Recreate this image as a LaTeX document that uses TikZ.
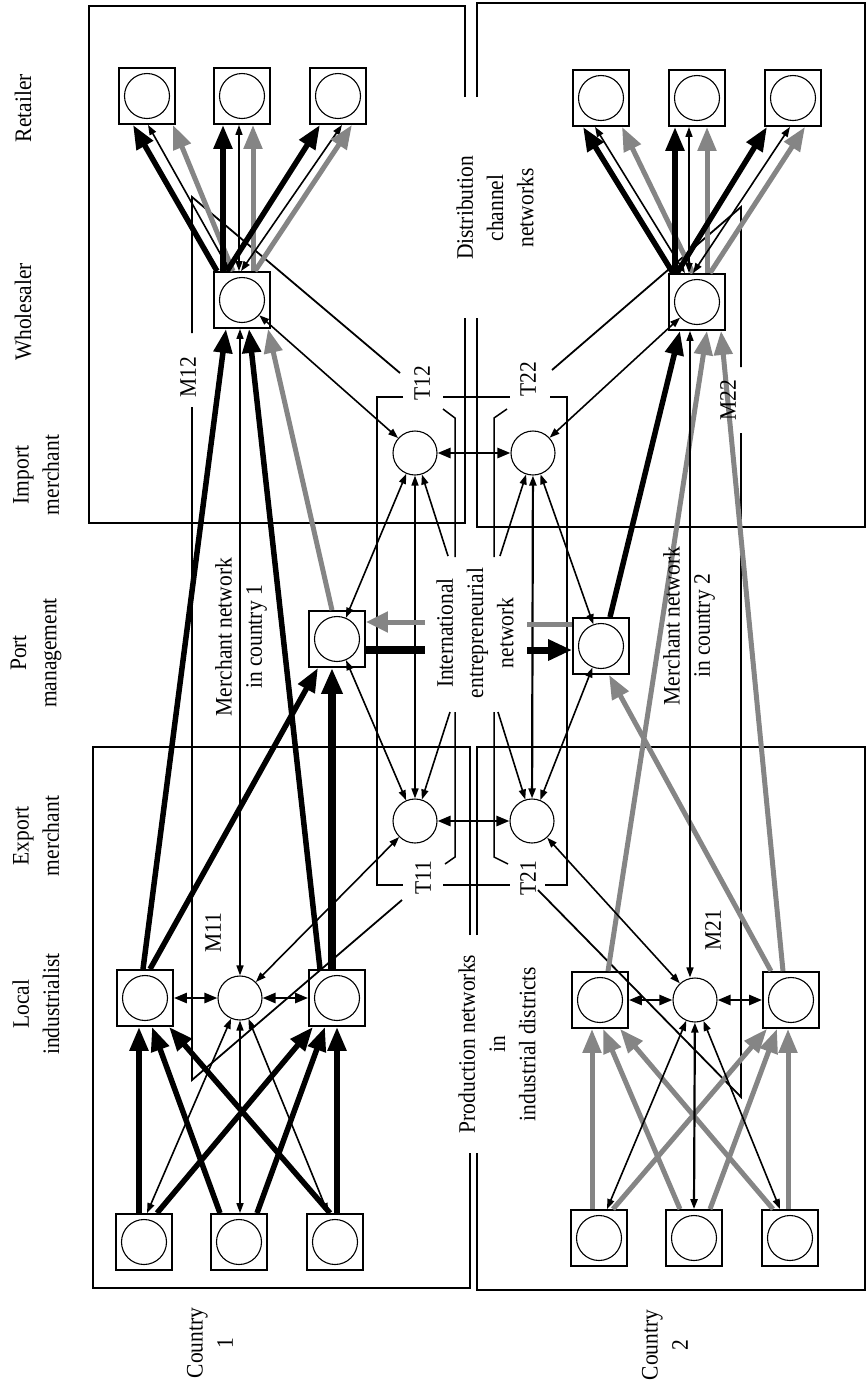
\documentclass[tikz,border=0pt]{standalone}
\usepackage{fontspec}
\setmainfont{Liberation Serif}
\usetikzlibrary{arrows.meta}
\definecolor{shade}{gray}{0.52}
\begin{document}
\begin{tikzpicture}[x=1pt, y=-1pt,
  box/.style={draw, line width=1.8pt, minimum size=56pt, inner sep=0pt},
  disc/.style={draw, circle, line width=1.1pt, minimum size=45pt, inner sep=0pt},
  frame/.style={line width=1.5pt},
  bracket/.style={line width=1.8pt},
  lbl/.style={rotate=90, yscale=1.1, align=center, inner sep=0pt, font=\fontsize{21.5}{27.5}\selectfont},
  heavy/.style={line width=5.5pt, >={Triangle[length=24pt,width=18pt]}, ->},
  heavygray/.style={heavy, color=shade, line width=5pt},
  fine/.style={line width=1.6pt, >={Triangle[length=10pt,width=7pt]}, <->},
  fineone/.style={line width=1.6pt, >={Triangle[length=10pt,width=7pt]}, ->},
  mid/.style={line width=2.6pt, >={Triangle[length=13pt,width=10pt]}, <->},
]
\useasboundingbox (0,0) rectangle (867,1385);

% ---------- network frames ----------
\draw[frame] (465,97) -- (465,6) -- (89,6) -- (89,523) -- (465,523) -- (465,318);
\draw[frame] (477,97) -- (477,3) -- (865,3) -- (865,527) -- (477,527) -- (477,318);
\draw[frame] (470,935) -- (470,747) -- (93,747) -- (93,1288) -- (470,1288) -- (470,1153);
\draw[frame] (477,935) -- (477,747) -- (865,747) -- (865,1290) -- (477,1290) -- (477,1153);

% trading box with T11..T22
\draw[frame] (403,397) -- (377,397) -- (377,885) -- (403,885);
\draw[frame] (443,397) -- (510,397);
\draw[frame] (550,397) -- (567,397) -- (567,885) -- (545,885);
\draw[frame] (443,885) -- (510,885);

% international entrepreneurial network boundaries
\draw[frame] (443,409) -- (455,418) -- (455,557);
\draw[frame] (455,712) -- (455,857) -- (445,864);
\draw[frame] (507,409) -- (494,418) -- (494,557);
\draw[frame] (494,712) -- (494,857) -- (508,864);

% merchant network brackets
\coordinate (m12lead) at (400,373);
\coordinate (m11lead) at (402,900);
\coordinate (m22lead) at (552,370);
\coordinate (m21lead) at (538,890);
\draw[bracket] (m12lead) -- (192,197) -- (192,333);
\draw[bracket] (192,407) -- (192,1080) -- (m11lead);
\draw[bracket] (m22lead) -- (741,207) -- (741,367);
\draw[bracket] (741,433) -- (741,1097) -- (m21lead);

% ---------- actors, country 1 ----------
\node[box] (R11) at (147,96) {};  \node[disc] (R11c) at (R11) {};
\node[box] (R12) at (242,96) {};  \node[disc] (R12c) at (R12) {};
\node[box] (R13) at (338,96) {};  \node[disc] (R13c) at (R13) {};
\node[box] (W1) at (242,300) {};  \node[disc] (W1c) at (W1) {};
\node[disc, minimum size=44pt] (T12) at (415,453) {};
\node[box] (P1) at (337,639) {};  \node[disc] (P1c) at (P1) {};
\node[disc, minimum size=44pt] (T11) at (415,821) {};
\node[box] (L11) at (145,998) {}; \node[disc] (L11c) at (L11) {};
\node[disc, minimum size=44pt] (M11) at (240,998) {};
\node[box] (L13) at (337,998) {}; \node[disc] (L13c) at (L13) {};
\node[box] (S11) at (144,1242) {}; \node[disc] (S11c) at (S11) {};
\node[box] (S12) at (239,1242) {}; \node[disc] (S12c) at (S12) {};
\node[box] (S13) at (335,1242) {}; \node[disc] (S13c) at (S13) {};

% ---------- actors, country 2 ----------
\node[box] (R21) at (601,98) {};  \node[disc] (R21c) at (R21) {};
\node[box] (R22) at (697,98) {};  \node[disc] (R22c) at (R22) {};
\node[box] (R23) at (793,98) {};  \node[disc] (R23c) at (R23) {};
\node[box] (W2) at (697,302) {};  \node[disc] (W2c) at (W2) {};
\node[disc, minimum size=44pt] (T22) at (533,453) {};
\node[box] (P2) at (601,646) {};  \node[disc] (P2c) at (P2) {};
\node[disc, minimum size=44pt] (T21) at (532,821) {};
\node[box] (L21) at (600,1000) {}; \node[disc] (L21c) at (L21) {};
\node[disc, minimum size=44pt] (M21) at (695,1000) {};
\node[box] (L23) at (791,1000) {}; \node[disc] (L23c) at (L23) {};
\node[box] (S21) at (599,1238) {}; \node[disc] (S21c) at (S21) {};
\node[box] (S22) at (694,1238) {}; \node[disc] (S22c) at (S22) {};
\node[box] (S23) at (790,1238) {}; \node[disc] (S23c) at (S23) {};

% ---------- distribution channels ----------
\draw[heavy] ([xshift=-25pt]W1.north) -- ([xshift=-14pt]R11.south);
\draw[fine] ([xshift=-12pt]W1.north) -- ([xshift=1pt]R11.south);
\draw[heavygray] ([xshift=-9pt]W1.north) -- ([xshift=26pt]R11.south);
\draw[heavy] ([xshift=-19pt]W1.north) -- ([xshift=-19pt]R12.south);
\draw[fine] ([xshift=-3pt]W1.north) -- ([xshift=-3pt]R12.south);
\draw[heavygray] ([xshift=11pt]W1.north) -- ([xshift=11pt]R12.south);
\draw[heavy] ([xshift=-15pt]W1.north) -- ([xshift=-18pt]R13.south);
\draw[fine] ([xshift=-1pt]W1.north) -- ([xshift=4pt]R13.south);
\draw[heavygray] ([xshift=13pt]W1.north) -- ([xshift=14pt]R13.south);

\draw[heavy] ([xshift=-24pt]W2.north) -- ([xshift=-18pt]R21.south);
\draw[fine] ([xshift=-12pt]W2.north) -- ([xshift=-6pt]R21.south);
\draw[heavygray] ([xshift=-4pt]W2.north) -- ([xshift=21pt]R21.south);
\draw[heavy] ([xshift=-22pt]W2.north) -- ([xshift=-22pt]R22.south);
\draw[fine] ([xshift=-8pt]W2.north) -- ([xshift=-8pt]R22.south);
\draw[heavygray] ([xshift=10pt]W2.north) -- ([xshift=10pt]R22.south);
\draw[heavy] ([xshift=-20pt]W2.north) -- ([xshift=-26pt]R23.south);
\draw[fine] ([xshift=-4pt]W2.north) -- ([xshift=-3pt]R23.south);
\draw[heavygray] ([xshift=13pt]W2.north) -- ([xshift=12pt]R23.south);

% ---------- merchant links, country 1 ----------
\draw[heavy] ([xshift=-2pt]L11.north) -- ([xshift=-16pt]W1.south);
\draw[heavy] ([xshift=5pt]L11.north) -- ([xshift=-19pt]P1.south);
\draw[heavy] ([xshift=-17pt]L13.north) -- ([xshift=7pt]W1.south);
\draw[line width=7.5pt, >={Triangle[length=26pt,width=20pt]}, ->] ([xshift=-5pt]L13.north) -- ([xshift=-5pt]P1.south);
\draw[heavygray] ([xshift=-5pt]P1.north) -- ([xshift=26pt]W1.south);
\draw[fine] (M11.north) -- ([xshift=-2pt]W1.south);
\draw[fine] (T11) -- (M11);
\draw[fine] (T12) -- (W1c);
\draw[fine] (P1c) -- (T12);
\draw[fine] (P1c) -- (T11);

% ---------- merchant links, country 2 ----------
\draw[heavygray] ([xshift=8pt]L21.north) -- ([xshift=10pt]W2.south);
\draw[heavygray] ([xshift=-8pt]L23.north) -- ([xshift=24pt]W2.south);
\draw[heavygray] ([xshift=-20pt]L23.north) -- ([xshift=8pt]P2.south);
\draw[heavy] ([xshift=9pt]P2.north) -- ([xshift=-17pt]W2.south);
\draw[fine] ([xshift=-5pt]M21.north) -- ([xshift=-7pt]W2.south);
\draw[fine] (T21) -- (M21);
\draw[fine] (T22) -- (W2c);
\draw[fine] (P2c) -- (T22);
\draw[fine] (P2c) -- (T21);

% ---------- international entrepreneurial network ----------
\draw[mid] (T12) -- (T22);
\draw[mid] (T11) -- (T21);
\draw[fine] (T12) -- (T11);
\draw[fine, line width=2.2pt] (T22) -- (T21);
\coordinate (iA) at (448,556);
\coordinate (iB) at (500,556);
\coordinate (iC) at (450,712);
\coordinate (iD) at (498,712);
\draw[fineone] (iA) -- (T12);
\draw[fineone] (iB) -- (T22);
\draw[fineone] (iC) -- (T11);
\draw[fineone] (iD) -- (T21);

% port links
\coordinate (g1) at (425,622);
\coordinate (b1) at (425,650);
\coordinate (g2) at (527,624);
\coordinate (b2) at (527,650);
\draw[line width=5pt, color=shade, >={Triangle[length=22pt,width=20pt]}, ->] (g1) -- (P1.east |- g1);
\draw[line width=8pt] (P1.east |- b1) -- (b1);
\draw[line width=5pt, color=shade] (g2) -- (P2.west |- g2);
\draw[line width=7pt, >={Triangle[length=24pt,width=20pt]}, ->] (b2) -- (P2.west |- b2);

% ---------- production networks, country 1 ----------
\draw[heavy] ([xshift=-5pt]S11.north) -- ([xshift=-6pt]L11.south);
\draw[heavy] ([xshift=2pt]S13.north) -- (L13.south);
\draw[heavy] ([xshift=-19pt]S12.north) -- ([xshift=7pt]L11.south);
\draw[heavy] ([xshift=-5pt]S13.north) -- ([xshift=24pt]L11.south);
\draw[heavy] ([xshift=13pt]S11.north) -- ([xshift=-24pt]L13.south);
\draw[heavy] ([xshift=18pt]S12.north) -- ([xshift=-12pt]L13.south);
\draw[fine] (M11) -- ([xshift=3pt]S11.north);
\draw[fine] (M11) -- ([xshift=1pt]S12.north);
\draw[fine] (M11) -- ([xshift=-7pt]S13.north);
\draw[mid] (L11) -- (M11);
\draw[mid] (M11) -- (L13);

% ---------- production networks, country 2 ----------
\draw[heavygray] ([xshift=-7pt]S21.north) -- ([xshift=-8pt]L21.south);
\draw[heavygray] ([xshift=-2pt]S23.north) -- ([xshift=-3pt]L23.south);
\draw[heavygray] ([xshift=-14pt]S22.north) -- ([xshift=3pt]L21.south);
\draw[heavygray] ([xshift=-17pt]S23.north) -- ([xshift=20pt]L21.south);
\draw[heavygray] ([xshift=14pt]S21.north) -- ([xshift=-24pt]L23.south);
\draw[heavygray] ([xshift=16pt]S22.north) -- ([xshift=-14pt]L23.south);
\draw[fine] (M21) -- ([xshift=8pt]S21.north);
\draw[fine, line width=2.2pt] (M21) -- (S22.north);
\draw[fine] (M21) -- ([xshift=-10pt]S23.north);
\draw[mid] (L21) -- (M21);
\draw[mid] (M21) -- (L23);

% ---------- labels ----------
\node[lbl] (tRet) at (23,108) {Retailer};
\node[lbl] (tWho) at (23,312) {Wholesaler};
\node[lbl] (tImp) at (36,475) {Import\\merchant};
\node[lbl] (tPort) at (36,653) {Port\\management};
\node[lbl] (tExp) at (36,836) {Export\\merchant};
\node[lbl] (tLoc) at (36,1004) {Local\\industrialist};
\node[lbl] (tC1) at (210,1343) {Country\\1};
\node[lbl] (tC2) at (665,1345) {Country\\2};
\node[lbl] (tDist) at (495,208) {Distribution\\channel\\networks};
\node[lbl] (tMN1) at (241,637) {Merchant network\\in country 1};
\node[lbl] (tInt) at (475,633) {International\\entrepreneurial\\network};
\node[lbl] (tMN2) at (689,626) {Merchant network\\in country 2};
\node[lbl] (tProd) at (497,1044) {Production networks\\in\\industrial districts};
\node[lbl] (tM12) at (188,377) {M12};
\node[lbl] (tM11) at (213,933) {M11};
\node[lbl] (tM22) at (728,400) {M22};
\node[lbl] (tM21) at (713,930) {M21};
\node[lbl] (tT12) at (422,383) {T12};
\node[lbl] (tT22) at (528,379) {T22};
\node[lbl] (tT11) at (423,878) {T11};
\node[lbl] (tT21) at (528,878) {T21};
\end{tikzpicture}
\end{document}
